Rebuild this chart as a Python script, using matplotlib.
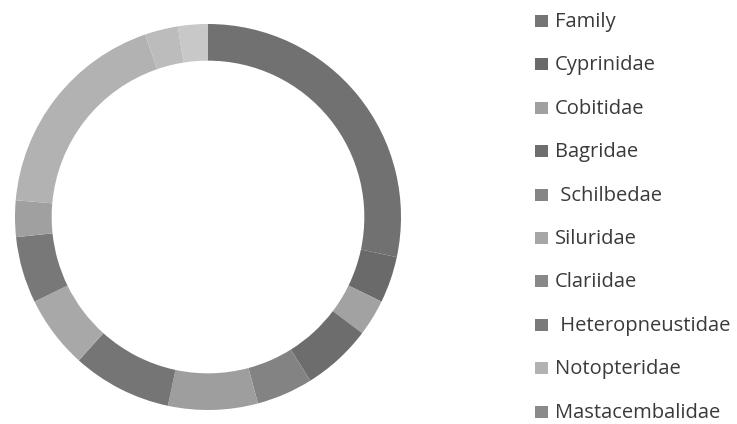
import matplotlib.pyplot as plt
from matplotlib.patches import Rectangle

# fish families, share of the ring (in degrees)
families = ["Family", "Cyprinidae", "Cobitidae", "Bagridae", " Schilbedae",
            "Siluridae", "Clariidae", " Heteropneustidae", "Notopteridae",
            "Mastacembalidae", "Channidae", "Ambassidae", "Gobiidae"]
values = [102, 14, 11, 21, 17, 27, 30, 22, 20, 11, 66, 10, 9]
colors = ["#717171", "#6a6a6a", "#a2a2a2", "#6d6d6d", "#838383", "#9e9e9e",
          "#757575", "#a8a8a8", "#787878", "#a0a0a0", "#b2b2b2", "#bcbcbc",
          "#c8c8c8"]
legend_colors = ["#757575", "#6a6a6a", "#a0a0a0", "#6e6e6e", "#858585",
                 "#a6a6a6", "#888888", "#7a7a7a", "#b2b2b2", "#8a8a8a"]
shown = 10  # legend is cut off after Mastacembalidae

W, H = 737, 424
fig = plt.figure(figsize=(W / 100, H / 100), dpi=100)

cx, cy, r = 208, 217, 193
ax = fig.add_axes([(cx - r) / W, (H - cy - r) / H, 2 * r / W, 2 * r / H])
ax.pie(values, colors=colors, startangle=90, counterclock=False,
       radius=1, wedgeprops=dict(width=0.19, edgecolor="none"))
ax.set_xlim(-1, 1)
ax.set_ylim(-1, 1)
ax.set_aspect("equal")
ax.axis("off")

# legend drawn by hand
base0, step = 27, 43.4
for i in range(shown):
    b = base0 + i * step
    fig.patches.append(Rectangle((535 / W, (H - b) / H), 13 / W, 12 / H,
                                 transform=fig.transFigure,
                                 facecolor=legend_colors[i], edgecolor="none"))
    fig.text(555 / W, (H - b) / H, families[i], fontsize=14.5,
             family="Open Sans", color="#3a3a3a", va="baseline", ha="left")

fig.savefig("out.png", dpi=100)
